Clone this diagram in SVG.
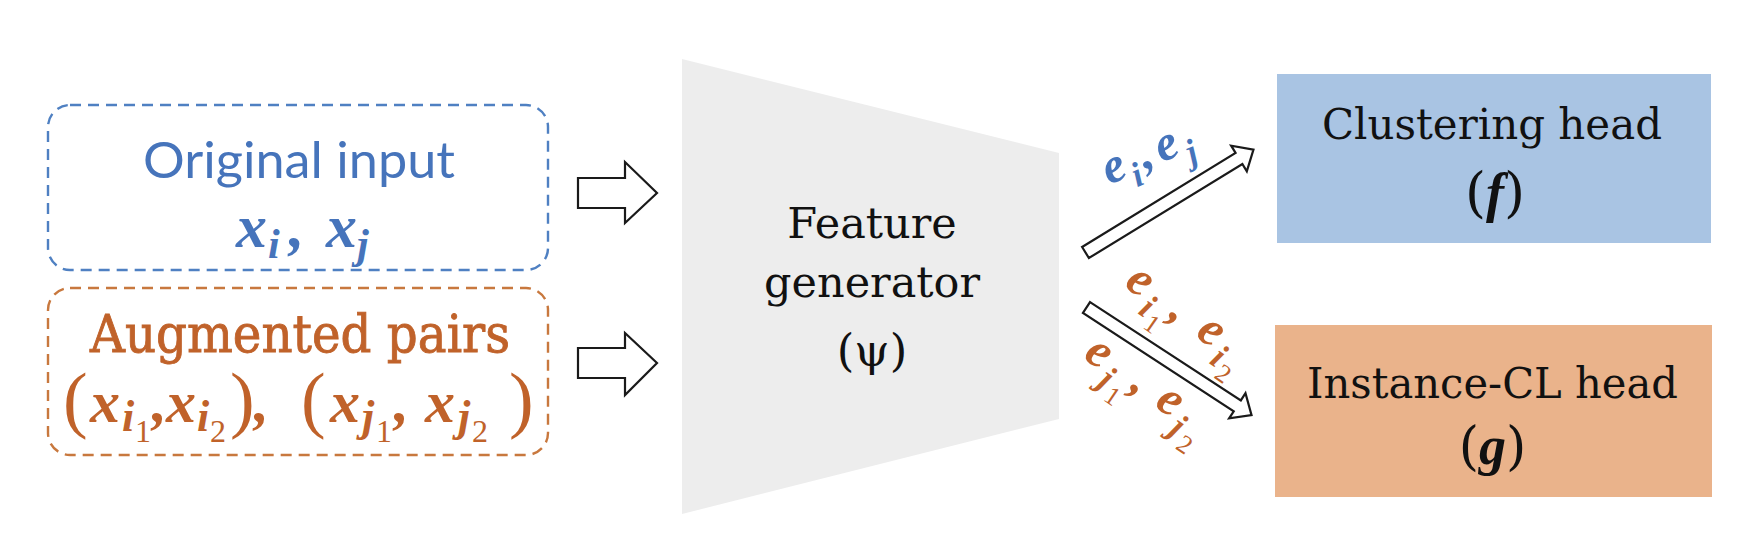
<svg xmlns="http://www.w3.org/2000/svg" width="1752" height="548" viewBox="0 0 1752 548">
<style>
  .dash-blue { fill: none; stroke: #4f80c2; stroke-width: 2.4; stroke-dasharray: 11 7; }
  .dash-orange { fill: none; stroke: #c8783e; stroke-width: 2.4; stroke-dasharray: 11 7; }
  .sans { font-family: Lato, "Open Sans", "Liberation Sans", sans-serif; }
  .serif { font-family: "DejaVu Serif", "Liberation Serif", serif; }
  .math { font-family: "Liberation Serif", "DejaVu Serif", serif; font-style: italic; font-weight: bold; }
  .up { font-style: normal; font-weight: normal; }
  .ink { fill: #111; }
  .blue { fill: #4674bb; }
  .orange { fill: #c0622a; }
  .heavy { stroke: #c0622a; stroke-width: 0.9; }
  .arrow { fill: #fff; stroke: #1a1a1a; stroke-width: 2.2; stroke-linejoin: miter; }
</style>
<defs>
  <path id="diag" d="M0,-6.5 H180 V-15 L197,0 L180,15 V6.5 H0 Z"/>
</defs>
<rect width="1752" height="548" fill="#fff"/>

<g id="node-original">
  <rect class="dash-blue" x="48" y="105" width="500" height="165" rx="22"/>
  <text class="sans blue" x="299" y="178" font-size="50" text-anchor="middle" textLength="312" lengthAdjust="spacingAndGlyphs">Original input</text>
  <text class="math blue" font-size="62"><tspan x="236" y="247">x</tspan><tspan x="268" y="258" font-size="42">i</tspan><tspan x="289" y="247">,</tspan><tspan x="326" y="247">x</tspan><tspan x="357" y="258" font-size="42">j</tspan></text>
</g>

<g id="node-augmented">
  <rect class="dash-orange" x="48" y="288" width="500" height="167" rx="22"/>
  <text class="serif orange heavy" x="300" y="352" font-size="53" text-anchor="middle" textLength="420" lengthAdjust="spacingAndGlyphs">Augmented pairs</text>
  <text class="math orange" font-size="60"><tspan class="up" x="63" y="424" font-size="74">(</tspan><tspan x="90" y="422">x</tspan><tspan x="122" y="431" font-size="44">i</tspan><tspan class="up" x="135" y="442" font-size="32">1</tspan><tspan x="152" y="422">,</tspan><tspan x="166" y="422">x</tspan><tspan x="197" y="431" font-size="44">i</tspan><tspan class="up" x="210" y="442" font-size="32">2</tspan><tspan class="up" x="230" y="424" font-size="74">)</tspan><tspan x="254" y="422">,</tspan><tspan class="up" x="301" y="424" font-size="74">(</tspan><tspan x="330" y="422">x</tspan><tspan x="362" y="431" font-size="44">j</tspan><tspan class="up" x="376" y="442" font-size="32">1</tspan><tspan x="394" y="422">,</tspan><tspan x="425" y="422">x</tspan><tspan x="458" y="431" font-size="44">j</tspan><tspan class="up" x="472" y="442" font-size="32">2</tspan><tspan class="up" x="509" y="424" font-size="74">)</tspan></text>
</g>

<g id="node-generator">
  <polygon points="682,59 1059,153 1059,419 682,514" fill="#ededed"/>
  <text class="serif ink" x="872" y="238" font-size="43" text-anchor="middle">Feature</text>
  <text class="serif ink" x="872" y="297" font-size="43" text-anchor="middle">generator</text>
  <text class="serif ink" x="872" y="366" font-size="45" text-anchor="middle">(ψ)</text>
</g>

<g id="node-clustering">
  <rect x="1277" y="74" width="434" height="169" fill="#a9c4e3"/>
  <text class="serif ink" x="1492" y="139" font-size="42" text-anchor="middle" textLength="340" lengthAdjust="spacingAndGlyphs">Clustering head</text>
  <text class="serif ink" x="1495" y="211" font-size="54" text-anchor="middle">(<tspan font-family="Liberation Serif, serif" font-style="italic" font-weight="bold" font-size="54">f</tspan>)</text>
</g>

<g id="node-instance">
  <rect x="1275" y="325" width="437" height="172" fill="#eab38b"/>
  <text class="serif ink" x="1492.5" y="398" font-size="42" text-anchor="middle" textLength="371" lengthAdjust="spacingAndGlyphs">Instance-CL head</text>
  <text class="serif ink" x="1492.5" y="464" font-size="52" text-anchor="middle">(<tspan font-family="Liberation Serif, serif" font-style="italic" font-weight="bold" font-size="54">g</tspan>)</text>
</g>

<g id="connectors">
  <path class="arrow" d="M578,178 H625 V162 L657,193 L625,223 V208 H578 Z"/>
  <path class="arrow" d="M578,348 H625 V333 L657,363 L625,395 V378 H578 Z"/>
  <use href="#diag" class="arrow" transform="translate(1085.5,252.5) rotate(-31.5)"/>
  <use href="#diag" class="arrow" transform="translate(1086.5,307.5) rotate(33.1)"/>
  <text class="math blue" font-size="50" transform="translate(1109,185) rotate(-23)"><tspan x="0" y="0">e</tspan><tspan x="25" y="13" font-size="35">i</tspan><tspan x="39" y="0">,</tspan><tspan x="57" y="0">e</tspan><tspan x="84" y="13" font-size="35">j</tspan></text>
  <text class="math orange" font-size="50" transform="translate(1123,286) rotate(35)"><tspan x="0" y="0">e</tspan><tspan x="27" y="14" font-size="35">i</tspan><tspan class="up" x="39" y="23" font-size="26">1</tspan><tspan x="54" y="0">,</tspan><tspan x="87" y="0">e</tspan><tspan x="114" y="14" font-size="35">i</tspan><tspan class="up" x="126" y="23" font-size="26">2</tspan></text>
  <text class="math orange" font-size="50" transform="translate(1082,358) rotate(34)"><tspan x="0" y="0">e</tspan><tspan x="27" y="14" font-size="35">j</tspan><tspan class="up" x="40" y="23" font-size="26">1</tspan><tspan x="56" y="0">,</tspan><tspan x="86" y="0">e</tspan><tspan x="113" y="14" font-size="35">j</tspan><tspan class="up" x="127" y="23" font-size="26">2</tspan></text>
</g>
</svg>
